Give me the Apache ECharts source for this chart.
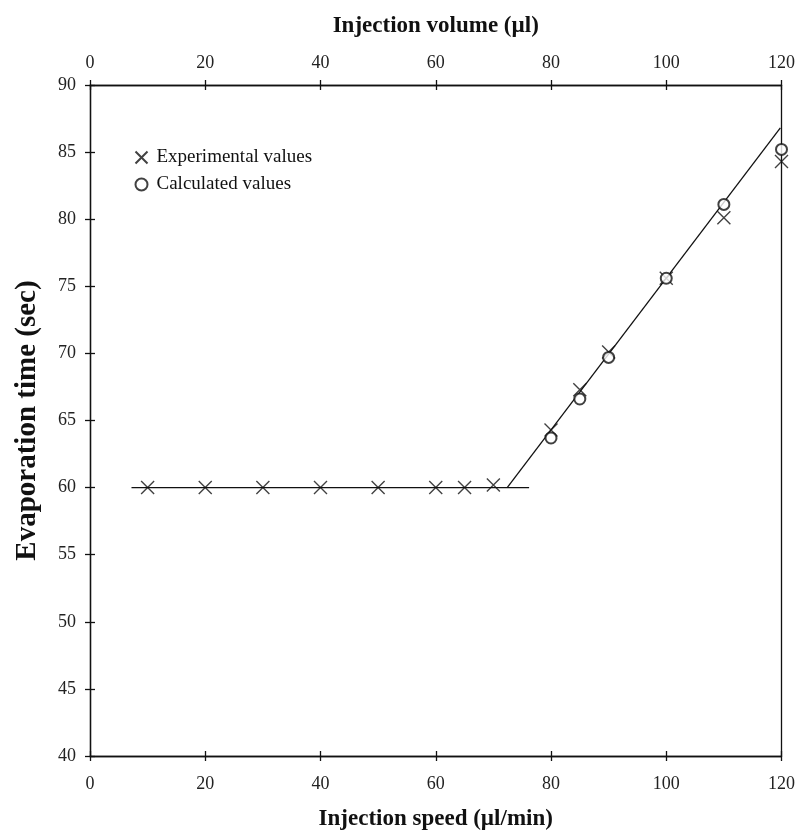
<!DOCTYPE html>
<html>
<head>
<meta charset="utf-8">
<script src="https://cdn.jsdelivr.net/npm/echarts@6/dist/echarts.min.js"></script>
<style>
  html, body { margin: 0; padding: 0; background: #fff; }
  #chart { width: 798px; height: 836px; }
</style>
</head>
<body>
<div id="chart"></div>
<script>
// data
var expSpeed = [10, 20, 30, 40, 50, 60, 65, 70, 80, 85, 90, 100, 110, 120];
var expTime  = [60, 60, 60, 60, 60, 60, 60, 60.2, 64.3, 67.3, 70.1, 75.6, 80.1, 84.3];
var calcSpeed = [80, 85, 90, 100, 110, 120];
var calcTime  = [63.7, 66.6, 69.7, 75.6, 81.1, 85.2];
var flatFit  = [[7.2, 60], [76.2, 60]];
var slopeFit = [[72.4, 60], [119.8, 86.8]];

var font = '"Liberation Serif", "Times New Roman", serif';
var crossPath = 'path://M0,0L10,10M10,0L0,10';

function pairs(xs, ys) {
    var out = [];
    for (var i = 0; i < xs.length; i++) out.push([xs[i], ys[i]]);
    return out;
}

var nameStyle = { fontFamily: font, fontSize: 23, fontWeight: 'bold', color: '#111' };
var lineStyle = { color: '#111', width: 1.3 };

// ticks cross the axis line: one axis draws them outside, a twin draws them inside
function xAx(pos, inside, margin, extra) {
    var a = {
        type: 'value', position: pos, min: 0, max: 120, interval: 20,
        axisLine: { show: true, onZero: false, lineStyle: lineStyle },
        axisTick: { show: true, inside: inside, length: 5, lineStyle: lineStyle },
        axisLabel: { show: !inside, margin: margin, fontFamily: font, fontSize: 18, color: '#222' },
        splitLine: { show: false }
    };
    for (var k in extra) a[k] = extra[k];
    return a;
}

function yAx(pos, inside, showTicks, extra) {
    var a = {
        type: 'value', position: pos, min: 40, max: 90, interval: 5,
        axisLine: { show: true, onZero: false, lineStyle: lineStyle },
        axisTick: { show: showTicks, inside: inside, length: 5, lineStyle: lineStyle },
        axisLabel: { show: showTicks && !inside, margin: 14, fontFamily: font, fontSize: 18, color: '#222' },
        splitLine: { show: false }
    };
    for (var k in extra) a[k] = extra[k];
    return a;
}

var chart = echarts.init(document.getElementById('chart'));
chart.setOption({
    animation: false,
    backgroundColor: '#fff',
    grid: { left: 90, right: 14, top: 85, bottom: 74, containLabel: false },
    legend: {
        orient: 'vertical', left: 128, top: 143, itemGap: 8,
        itemWidth: 12, itemHeight: 12,
        data: ['Experimental values', 'Calculated values'],
        textStyle: { fontFamily: font, fontSize: 19, color: '#111', padding: [0, 0, 0, 4] }
    },
    xAxis: [
        xAx('bottom', false, 19, { name: 'Injection speed (µl/min)', nameLocation: 'middle', nameGap: 52, nameTextStyle: nameStyle }),
        xAx('bottom', true, 19, {}),
        xAx('top', false, 13, { name: 'Injection volume (µl)', nameLocation: 'middle', nameGap: 47, nameTextStyle: nameStyle }),
        xAx('top', true, 13, {})
    ],
    yAxis: [
        yAx('left', false, true, {
            name: 'Evaporation time (sec)', nameLocation: 'middle', nameGap: 48,
            nameTextStyle: { fontFamily: font, fontSize: 29, fontWeight: 'bold', color: '#111' }
        }),
        yAx('left', true, true, {}),
        yAx('right', false, false, {})
    ],
    series: [
        {
            name: 'Experimental values', type: 'scatter',
            data: pairs(expSpeed, expTime),
            symbol: crossPath, symbolSize: 13,
            itemStyle: { color: 'none', borderColor: '#111', borderWidth: 1.4 }
        },
        {
            name: 'Calculated values', type: 'scatter',
            data: pairs(calcSpeed, calcTime),
            symbol: 'emptyCircle', symbolSize: 11,
            itemStyle: { color: '#111', borderColor: '#111', borderWidth: 0.9 }
        },
        {
            name: 'fit flat', type: 'line', data: flatFit, showSymbol: false, symbol: 'none',
            lineStyle: { color: '#111', width: 1.3 }, z: 1
        },
        {
            name: 'fit slope', type: 'line', data: slopeFit, showSymbol: false, symbol: 'none',
            lineStyle: { color: '#111', width: 1.3 }, z: 1
        }
    ]
});
</script>
</body>
</html>
